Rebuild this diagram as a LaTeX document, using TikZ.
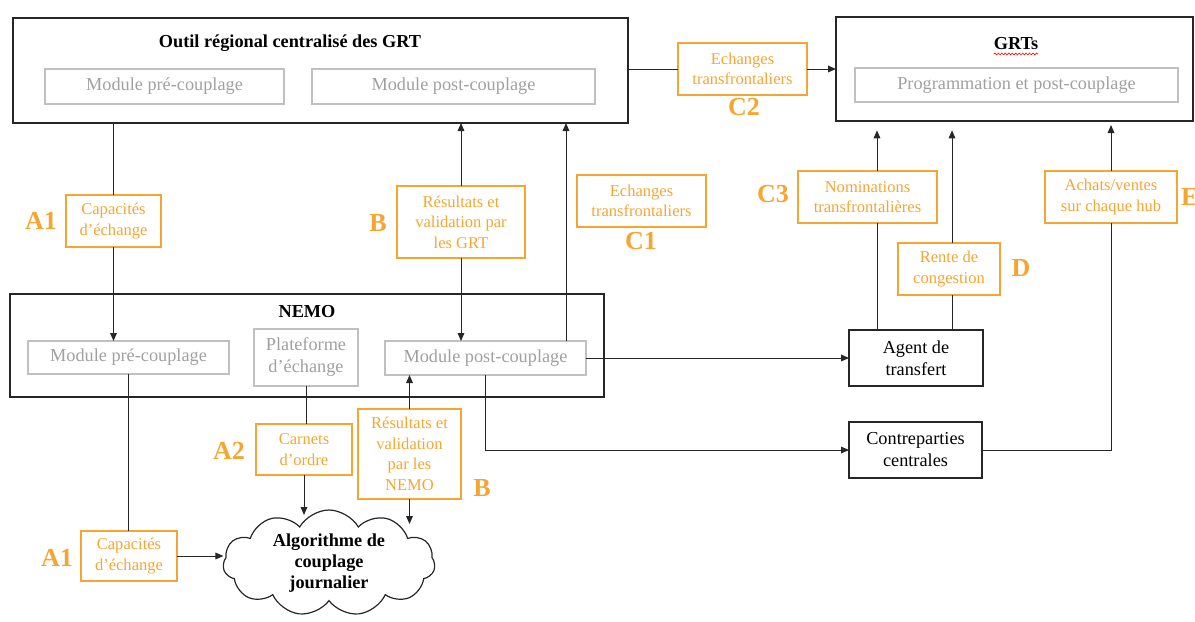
\documentclass[tikz,border=0pt]{standalone}
\usepackage{fontspec}
\setmainfont{Liberation Serif}
\usetikzlibrary{shapes.symbols,arrows.meta,calc,decorations.pathmorphing}
\definecolor{org}{RGB}{245,165,50}
\definecolor{gtxt}{RGB}{160,160,160}
\definecolor{gbrd}{RGB}{192,192,192}
\begin{document}
\begin{tikzpicture}[x=0.75pt,y=-0.75pt,
 every node/.style={inner sep=0pt, outer sep=0pt},
 sz/.style 2 args={minimum width=#1*0.75pt, minimum height=#2*0.75pt},
 blk/.style={draw=black!85, line width=0.9pt},
 grayb/.style={draw=gbrd, line width=0.9pt, text=gtxt, font=\fontsize{13.7}{16.5}\selectfont, align=center},
 orb/.style={draw=org, line width=1pt, text=org, font=\fontsize{12.4}{15.4}\selectfont, align=center},
 lab/.style={text=org, font=\fontsize{19.5}{20}\bfseries\selectfont},
 ttl/.style={font=\fontsize{13.7}{15.8}\bfseries\selectfont},
 bbox/.style={draw=black!85, line width=0.9pt, font=\fontsize{13.7}{16.5}\selectfont, align=center},
 con/.style={draw=black!85, line width=0.75pt},
 arr/.style={con, -{Triangle[length=6pt,width=5pt]}}]
\useasboundingbox (0,0) rectangle (1195,621);

% big frames
\node[blk, sz={615}{105}] (outil) at (320.5,70.5) {};
\node[ttl] (outilT) at (290,43) {Outil régional centralisé des GRT};
\node[grayb, sz={239}{35}] (opre) at (164.5,86.5) {Module pré-couplage};
\node[grayb, sz={283}{35}] (opost) at (453.5,86.5) {Module post-couplage};

\node[blk, sz={357}{104}] (grts) at (1014.5,69) {};
\node[ttl] (grtsT) at (1016,44) {GRTs};
\draw[red, line width=0.45pt, decorate, decoration={snake, amplitude=0.7pt, segment length=2.6pt}]
  ($(grtsT.base west)+(0,4)$) -- ($(grtsT.base east)+(0,4)$);
\node[grayb, sz={323}{34}] (gprog) at (1016.5,85) {Programmation et post-couplage};

\node[blk, sz={594}{103}] (nemo) at (307,345.5) {};
\node[ttl] (nemoT) at (307,312) {NEMO};
\node[grayb, sz={201}{33}] (npre) at (128.5,357.5) {Module pré-couplage};
\node[grayb, sz={104}{57}] (plat) at (306,357.5) {Plateforme\\d’échange};
\node[grayb, sz={201}{34}] (npost) at (485.5,358) {Module post-couplage};

\node[bbox, sz={134}{56}] (agent) at (916,358) {Agent de\\transfert};
\node[bbox, sz={133}{56}] (contre) at (915.5,450) {Contreparties\\centrales};

% orange boxes
\node[orb, sz={95}{52}] (capt) at (113.5,221) {Capacités\\d’échange};
\node[orb, sz={128}{72}] (bt) at (461,222) {Résultats et\\validation par\\les GRT};
\node[orb, sz={129}{52}] (c1) at (641.5,201) {Echanges\\transfrontaliers};
\node[orb, sz={129}{52}] (c2) at (742.5,69) {Echanges\\transfrontaliers};
\node[orb, sz={139}{52}] (c3) at (867.5,197) {Nominations\\transfrontalières};
\node[orb, sz={102}{52}] (d) at (949,269) {Rente de\\congestion};
\node[orb, sz={132}{52}] (e) at (1111,197) {Achats/ventes\\sur chaque hub};
\node[orb, sz={96}{51}] (carn) at (304,449.5) {Carnets\\d’ordre};
\node[orb, sz={103}{90}] (bb) at (409.5,454) {Résultats et\\validation\\par les\\NEMO};
\node[orb, sz={96}{50}] (capb) at (129,556) {Capacités\\d’échange};

% letter labels
\node[lab] (lA1t) at (41,221) {A1};
\node[lab] (lBt) at (378,223) {B};
\node[lab] (lC1) at (641,241) {C1};
\node[lab] (lC2) at (744,107) {C2};
\node[lab] (lC3) at (773,194) {C3};
\node[lab] (lD) at (1021,268) {D};
\node[lab, anchor=west] (lE) at (1181,197) {E};
\node[lab] (lA2) at (229,451) {A2};
\node[lab] (lA1b) at (57,558) {A1};
\node[lab] (lBb) at (482,488) {B};

% cloud
\node[cloud, draw=black!85, line width=0.9pt, cloud puffs=11, cloud puff arc=120,
  cloud ignores aspect, minimum width=212*0.75pt, minimum height=106*0.75pt,
  ttl, align=center] (cloud) at (329,563) {Algorithme de\\couplage\\journalier};
\coordinate (cA) at (305,515);
\coordinate (cB) at (410,524);

% connectors
\draw[con] (capt.north) -- (capt.north |- outil.south);
\draw[arr] (capt.south) -- (capt.south |- npre.north);
\draw[arr] (bt.north) -- (bt.north |- outil.south);
\draw[arr] (bt.south) -- (bt.south |- npost.north);
\coordinate (p566) at ($(npost.north east)+(-20,0)$);
\draw[arr] (p566) -- (p566 |- outil.south);
\draw[con] (c2.west -| outil.east) -- (c2.west);
\draw[arr] (c2.east) -- (c2.east -| grts.west);
\coordinate (ag1) at ($(agent.north west)+(28,0)$);
\coordinate (ag2) at ($(agent.north east)+(-31,0)$);
\draw[con] (ag1) -- (ag1 |- c3.south);
\draw[arr, shorten >=7pt] (ag1 |- c3.north) -- (ag1 |- grts.south);
\draw[con] (ag2) -- (ag2 |- d.south);
\draw[arr, shorten >=7pt] (ag2 |- d.north) -- (ag2 |- grts.south);
\draw[arr, shorten >=3pt] (e.north) -- (e.north |- grts.south);
\draw[con] (contre.east) -| (e.south);
\draw[arr] (npost.east) -- (npost.east -| agent.west);
\draw[arr] (npost.south) |- (contre.west);
\draw[con] (npre.south) -- (npre.south |- capb.north);
\draw[arr] (capb.east) -- (capb.east -| cloud.west);
\draw[con] (plat.south) -- (plat.south |- carn.north);
\draw[arr] (carn.south) -- (carn.south |- cA);
\draw[arr] (bb.north) -- (bb.north |- npost.south);
\draw[arr] (bb.south) -- (bb.south |- cB);
\end{tikzpicture}
\end{document}
